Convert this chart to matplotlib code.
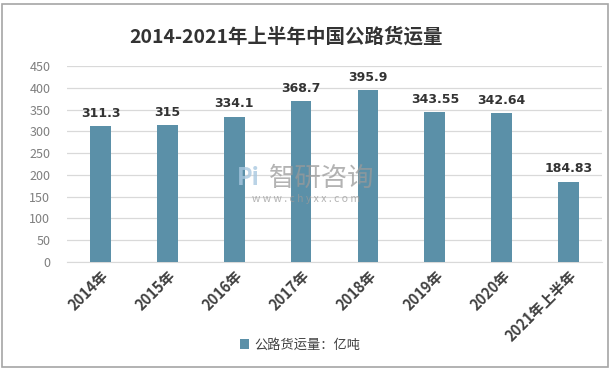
import matplotlib
matplotlib.use("Agg")
import matplotlib.pyplot as plt
from matplotlib.patches import Rectangle

plt.rcParams['font.family'] = ['Noto Sans CJK SC', 'DejaVu Sans']

years = ["2014年", "2015年", "2016年", "2017年", "2018年", "2019年", "2020年", "2021年上半年"]
freight = [311.3, 315, 334.1, 368.7, 395.9, 343.55, 342.64, 184.83]
labels = ["311.3", "315", "334.1", "368.7", "395.9", "343.55", "342.64", "184.83"]
yticks = [0, 50, 100, 150, 200, 250, 300, 350, 400, 450]

bar_color = "#5b90a8"

fig = plt.figure(figsize=(6.12, 3.71), dpi=100)
fig.patches.append(Rectangle((0.004, 0.012), 0.99, 0.978, transform=fig.transFigure,
                             fill=False, ec="#a6a6a6", lw=1.2))

ax = fig.add_axes([0.1095, 0.2938, 0.8742, 0.5282])
x = range(len(years))
bars = ax.bar(x, freight, width=0.31, color=bar_color, zorder=3, label="公路货运量：亿吨")
for xi, v, s in zip(x, freight, labels):
    ax.text(xi, v + 14, s, ha="center", va="bottom", fontsize=9, fontweight="bold",
            color="#333333", family=["DejaVu Sans"])

ax.set_xlim(-0.5, len(years) - 0.5)
ax.set_ylim(0, 450)
ax.set_yticks(yticks)
ax.grid(axis="y", color="#d9d9d9", lw=0.9, zorder=0)
ax.tick_params(axis="y", length=0, labelsize=9, labelcolor="#7f7f7f", pad=12)
ax.tick_params(axis="x", length=0, pad=4)
ax.set_xticks(list(x))
ax.set_xticklabels(years, rotation=45, ha="right", rotation_mode="anchor",
                   fontsize=10.5, fontweight="bold", color="#404040")
for s in ["top", "right", "left"]:
    ax.spines[s].set_visible(False)
ax.spines["bottom"].set_color("#d9d9d9")

fig.text(0.467, 0.9, "2014-2021年上半年中国公路货运量", ha="center", va="center",
         fontsize=14, fontweight="bold", color="#333333")

# watermark
fig.text(0.525, 0.52, "智研咨询", ha="center", va="center", fontsize=19,
         color="#9a9a9a", alpha=0.75, zorder=5)
fig.text(0.50, 0.463, "w w w . c h y x x . c o m", ha="center", va="center", fontsize=7.5,
         color="#9a9a9a", alpha=0.75, zorder=5)
fig.text(0.405, 0.52, "Pi", ha="center", va="center", fontsize=17, fontweight="bold",
         color="#a9c8e0", alpha=0.8, zorder=5)

fig.legend(handles=[bars], labels=["公路货运量：亿吨"], loc="center", bbox_to_anchor=(0.49, 0.07),
           frameon=False, fontsize=9.5, handlelength=0.7, handleheight=0.7, handletextpad=0.4,
           labelcolor="#404040")

fig.savefig("out.png", dpi=100)
